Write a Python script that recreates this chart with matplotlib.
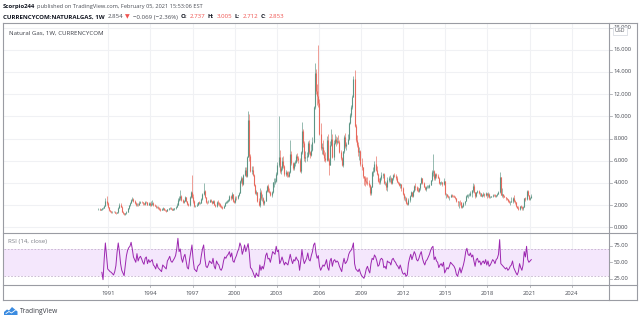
import numpy as np
import matplotlib.pyplot as plt
from matplotlib.lines import Line2D
from matplotlib.patches import Rectangle, Polygon

W, H = 640, 321
FONT = ['Open Sans', 'DejaVu Sans']

# monthly bars, first one is April 1990
start_year, start_month = 1990, 4
closes = [
    1.65, 1.58, 1.62, 1.70, 1.78, 1.95, 2.35, 2.20, 1.80,                    # 1990
    1.52, 1.45, 1.38, 1.40, 1.42, 1.30, 1.28, 1.35, 1.75, 2.05, 1.85, 1.40,  # 1991
    1.30, 1.18, 1.25, 1.40, 1.70, 2.00, 2.20, 2.45, 2.55, 2.35, 2.20, 2.05,  # 1992
    2.05, 2.00, 2.20, 2.30, 2.25, 2.15, 2.10, 2.30, 2.25, 2.05, 2.20, 2.00,  # 1993
    2.10, 2.20, 2.00, 1.95, 1.80, 1.85, 1.75, 1.65, 1.55, 1.62, 1.72, 1.60,  # 1994
    1.55, 1.50, 1.62, 1.70, 1.75, 1.65, 1.60, 1.62, 1.70, 1.85, 2.05, 2.50,  # 1995
    2.60, 2.80, 2.45, 2.25, 2.40, 2.70, 2.35, 2.10, 2.00, 2.70, 3.20, 2.70,  # 1996
    2.40, 1.95, 1.95, 2.05, 2.25, 2.20, 2.20, 2.55, 3.00, 3.30, 2.70, 2.30,  # 1997
    2.25, 2.30, 2.45, 2.35, 2.20, 2.40, 2.05, 1.90, 2.30, 2.15, 2.10, 1.95,  # 1998
    1.85, 1.75, 1.95, 2.20, 2.30, 2.35, 2.45, 2.80, 2.60, 3.00, 2.40, 2.30,  # 1999
    2.65, 2.60, 2.90, 3.10, 4.20, 4.40, 3.90, 4.70, 5.20, 4.60, 6.30, 9.70,  # 2000
    6.40, 5.10, 5.20, 4.70, 3.80, 3.10, 3.20, 2.40, 2.00, 3.20, 2.60, 2.60,  # 2001
    2.20, 2.40, 3.30, 3.70, 3.30, 3.20, 2.90, 3.20, 4.10, 4.10, 4.20, 4.80,  # 2002
    5.60, 6.30, 5.10, 5.30, 6.00, 5.50, 4.80, 5.00, 4.70, 4.60, 5.00, 6.60,  # 2003
    5.80, 5.30, 5.80, 5.90, 6.40, 6.20, 6.10, 5.10, 6.80, 8.70, 7.60, 6.20,  # 2004
    6.30, 6.40, 7.60, 6.80, 6.50, 7.00, 7.70, 10.80, 13.90, 12.30, 11.80, 11.20,  # 2005
    8.40, 7.10, 7.20, 6.60, 6.20, 6.10, 7.90, 6.10, 5.60, 7.40, 8.00, 6.30,  # 2006
    7.60, 8.00, 7.70, 7.80, 7.70, 6.80, 6.20, 5.60, 6.90, 8.10, 7.30, 7.50,  # 2007
    8.00, 9.40, 10.10, 10.80, 11.70, 13.40, 9.10, 7.90, 7.40, 6.80, 6.90, 5.70,  # 2008
    5.40, 4.60, 4.40, 4.20, 4.10, 4.00, 3.80, 3.10, 3.60, 5.00, 5.10, 5.70,  # 2009
    5.20, 4.80, 4.20, 4.10, 4.40, 4.70, 4.80, 4.00, 4.00, 3.60, 4.30, 4.40,  # 2010
    4.40, 4.00, 4.40, 4.70, 4.60, 4.40, 4.10, 4.00, 3.80, 3.90, 3.50, 3.00,  # 2011
    2.60, 2.60, 2.20, 2.10, 2.45, 2.80, 3.20, 2.85, 3.30, 3.70, 3.60, 3.40,  # 2012
    3.30, 3.50, 4.00, 4.40, 4.00, 3.60, 3.45, 3.60, 3.60, 3.60, 3.85, 4.25,  # 2013
    5.00, 5.10, 4.40, 4.80, 4.60, 4.45, 4.00, 4.05, 4.10, 3.90, 4.20, 3.00,  # 2014
    3.00, 2.85, 2.70, 2.75, 2.90, 2.85, 2.80, 2.75, 2.60, 2.35, 2.25, 2.30,  # 2015
    2.25, 1.80, 1.95, 2.20, 2.35, 2.85, 2.90, 2.90, 2.95, 3.10, 3.35, 3.70,  # 2016
    3.15, 2.80, 3.20, 3.25, 3.05, 3.05, 2.85, 2.95, 3.00, 2.90, 3.10, 2.90,  # 2017
    3.00, 2.70, 2.75, 2.80, 2.95, 2.90, 2.80, 2.90, 3.00, 3.20, 4.50, 2.95,  # 2018
    3.00, 2.80, 2.70, 2.60, 2.55, 2.40, 2.30, 2.30, 2.35, 2.65, 2.40, 2.25,  # 2019
    1.95, 1.75, 1.65, 1.90, 1.85, 1.75, 1.85, 2.60, 2.55, 3.30, 2.90, 2.55,  # 2020
    2.60, 2.853,                                                             # 2021
]
highs = [
    1.75, 1.70, 1.68, 1.78, 1.85, 2.05, 2.60, 2.78, 2.25,
    1.85, 1.58, 1.50, 1.48, 1.50, 1.48, 1.36, 1.42, 1.85, 2.22, 2.15, 1.90,
    1.45, 1.32, 1.32, 1.48, 1.75, 2.05, 2.30, 2.55, 2.75, 2.60, 2.45, 2.30,
    2.20, 2.15, 2.35, 2.40, 2.38, 2.30, 2.20, 2.40, 2.38, 2.28, 2.32, 2.25,
    2.35, 2.45, 2.25, 2.10, 2.00, 1.95, 1.90, 1.80, 1.70, 1.70, 1.82, 1.78,
    1.65, 1.60, 1.68, 1.78, 1.82, 1.80, 1.70, 1.70, 1.78, 1.95, 2.15, 2.65,
    2.85, 3.40, 2.90, 2.55, 2.50, 2.80, 2.75, 2.40, 2.20, 2.80, 3.30, 4.70,
    3.00, 2.45, 2.05, 2.15, 2.30, 2.35, 2.30, 2.65, 3.10, 3.95, 3.40, 2.75,
    2.40, 2.45, 2.55, 2.55, 2.40, 2.50, 2.45, 2.10, 2.40, 2.45, 2.25, 2.20,
    2.00, 1.90, 2.00, 2.30, 2.40, 2.45, 2.55, 2.90, 2.95, 3.20, 3.00, 2.50,
    2.80, 2.80, 2.95, 3.20, 4.30, 4.60, 4.50, 4.80, 5.40, 5.40, 6.40, 10.50,
    10.20, 6.60, 5.50, 5.50, 4.80, 3.90, 3.40, 3.20, 2.60, 3.50, 3.40, 3.00,
    2.70, 2.50, 3.40, 3.80, 3.90, 3.50, 3.30, 3.30, 4.10, 4.40, 4.40, 5.00,
    5.90, 10.00, 7.00, 5.50, 6.30, 6.40, 5.60, 5.20, 5.10, 5.10, 5.10, 7.90,
    6.90, 5.90, 5.90, 6.10, 6.60, 6.70, 6.40, 6.20, 6.90, 9.50, 8.90, 7.80,
    6.90, 6.80, 7.80, 7.90, 6.90, 7.50, 8.10, 10.90, 14.80, 14.30, 12.90, 16.40,
    11.60, 9.40, 7.60, 7.90, 7.00, 6.80, 8.20, 8.40, 6.20, 7.80, 8.90, 8.40,
    7.90, 8.40, 8.20, 8.10, 8.30, 7.90, 7.00, 6.30, 6.90, 8.30, 8.50, 7.70,
    8.40, 9.50, 10.30, 11.00, 11.90, 13.60, 14.20, 9.30, 8.30, 7.70, 7.20, 7.00,
    6.20, 5.40, 4.60, 4.60, 4.50, 4.50, 4.30, 3.90, 3.70, 5.10, 5.40, 6.00,
    6.40, 5.50, 4.90, 4.40, 4.50, 5.00, 4.90, 4.90, 4.20, 4.10, 4.50, 4.60,
    4.70, 4.50, 4.40, 4.80, 4.90, 4.80, 4.60, 4.20, 4.10, 4.00, 3.90, 3.60,
    3.10, 2.80, 2.70, 2.30, 2.60, 2.90, 3.30, 3.20, 3.40, 3.80, 4.00, 3.70,
    3.60, 3.50, 4.00, 4.50, 4.40, 4.10, 3.70, 3.70, 3.80, 3.80, 3.90, 4.30,
    5.20, 6.60, 5.20, 4.90, 4.90, 4.80, 4.50, 4.10, 4.15, 4.10, 4.45, 4.20,
    3.10, 3.00, 2.95, 2.80, 3.00, 3.00, 2.95, 2.90, 2.80, 2.60, 2.40, 2.35,
    2.50, 2.30, 2.00, 2.25, 2.40, 2.95, 3.00, 3.00, 3.10, 3.30, 3.40, 4.00,
    3.90, 3.20, 3.20, 3.35, 3.40, 3.20, 3.10, 3.00, 3.15, 3.05, 3.15, 3.10,
    3.20, 3.10, 2.85, 2.85, 2.98, 3.00, 2.98, 2.95, 3.10, 3.30, 5.00, 4.50,
    3.50, 3.00, 2.90, 2.75, 2.65, 2.55, 2.45, 2.40, 2.70, 2.75, 2.90, 2.50,
    2.25, 1.95, 1.90, 1.95, 2.00, 1.90, 1.90, 2.65, 2.75, 3.40, 3.35, 2.95,
    2.75, 3.005,
]
lows = [
    1.55, 1.52, 1.55, 1.60, 1.68, 1.75, 1.90, 2.05, 1.75,
    1.48, 1.40, 1.33, 1.33, 1.35, 1.25, 1.22, 1.25, 1.32, 1.70, 1.80, 1.35,
    1.22, 1.10, 1.14, 1.22, 1.38, 1.65, 1.95, 2.15, 2.40, 2.25, 2.10, 1.95,
    1.95, 1.92, 1.98, 2.15, 2.15, 2.05, 2.02, 2.05, 2.15, 2.00, 2.00, 1.90,
    1.95, 2.05, 1.95, 1.88, 1.75, 1.75, 1.68, 1.60, 1.50, 1.52, 1.58, 1.55,
    1.48, 1.42, 1.48, 1.60, 1.65, 1.62, 1.55, 1.55, 1.60, 1.68, 1.82, 2.00,
    2.40, 2.50, 2.35, 2.15, 2.20, 2.35, 2.30, 2.05, 1.90, 1.95, 2.65, 2.60,
    2.20, 1.85, 1.85, 1.90, 2.00, 2.10, 2.10, 2.15, 2.50, 2.95, 2.60, 2.20,
    2.10, 2.15, 2.25, 2.25, 2.10, 2.15, 2.00, 1.80, 1.85, 2.00, 1.95, 1.85,
    1.75, 1.65, 1.70, 1.90, 2.15, 2.20, 2.30, 2.40, 2.50, 2.55, 2.30, 2.15,
    2.20, 2.50, 2.55, 2.85, 3.10, 4.00, 3.70, 3.80, 4.60, 4.50, 4.50, 6.30,
    6.00, 5.00, 4.80, 4.60, 3.70, 3.00, 2.90, 2.30, 1.90, 1.85, 2.50, 2.40,
    2.00, 2.00, 2.40, 3.20, 3.20, 3.10, 2.80, 2.75, 3.10, 3.60, 3.90, 4.10,
    4.70, 5.40, 4.90, 4.80, 5.20, 5.30, 4.60, 4.60, 4.50, 4.50, 4.50, 4.90,
    5.60, 5.20, 5.20, 5.50, 5.80, 6.00, 5.80, 5.00, 4.90, 6.60, 7.20, 6.00,
    5.90, 6.00, 6.30, 6.60, 6.20, 6.40, 6.90, 7.60, 10.70, 12.00, 11.00, 10.80,
    8.30, 7.00, 6.60, 6.50, 6.00, 5.90, 6.00, 6.00, 4.70, 5.60, 7.30, 6.20,
    6.10, 7.50, 7.30, 7.50, 7.60, 6.70, 6.10, 5.50, 5.40, 6.70, 7.10, 7.00,
    7.50, 7.90, 9.30, 9.90, 10.70, 11.70, 9.00, 7.70, 7.20, 6.40, 6.10, 5.50,
    5.20, 4.40, 3.80, 3.70, 3.90, 3.80, 3.60, 2.90, 2.90, 3.60, 4.60, 5.00,
    5.10, 4.70, 4.10, 3.90, 3.90, 4.30, 4.40, 3.90, 3.80, 3.40, 3.30, 4.10,
    4.10, 3.90, 3.90, 4.30, 4.50, 4.30, 4.10, 3.90, 3.70, 3.50, 3.30, 2.90,
    2.50, 2.40, 2.10, 2.00, 2.00, 2.30, 2.80, 2.70, 2.75, 3.20, 3.40, 3.30,
    3.20, 3.20, 3.40, 3.90, 3.90, 3.60, 3.40, 3.30, 3.50, 3.50, 3.50, 3.80,
    4.20, 4.60, 4.30, 4.30, 4.40, 4.40, 3.90, 3.80, 3.90, 3.70, 3.80, 2.95,
    2.60, 2.70, 2.60, 2.50, 2.70, 2.70, 2.70, 2.70, 2.55, 2.25, 1.95, 1.75,
    2.05, 1.75, 1.70, 1.85, 2.00, 2.35, 2.70, 2.65, 2.80, 2.85, 2.70, 3.20,
    3.10, 2.60, 2.70, 3.05, 3.00, 2.85, 2.80, 2.75, 2.85, 2.70, 2.85, 2.65,
    2.70, 2.60, 2.60, 2.70, 2.75, 2.85, 2.70, 2.75, 2.85, 3.00, 3.10, 2.90,
    2.75, 2.60, 2.70, 2.50, 2.45, 2.30, 2.15, 2.05, 2.28, 2.20, 2.30, 2.10,
    1.85, 1.70, 1.55, 1.55, 1.70, 1.55, 1.60, 1.80, 2.40, 2.50, 2.80, 2.45,
    2.45, 2.712,
]

rsi_start_year, rsi_start_month = 1990, 7
rsi = [
    35, 24, 55, 79, 60, 40,
    38, 36, 35, 33, 31, 36, 45, 65, 79, 66, 48, 38,
    34, 30, 45, 60, 68, 72, 74, 80, 70, 58, 54, 50,
    63, 52, 57, 59, 55, 50, 47, 56, 58, 48, 54, 50,
    52, 54, 46, 44, 40, 48, 42, 40, 38, 36, 46, 44,
    42, 40, 52, 55, 59, 52, 50, 53, 56, 60, 70, 86,
    66, 70, 56, 50, 58, 62, 52, 42, 40, 55, 66, 76,
    54, 40, 38, 36, 44, 46, 48, 60, 70, 76, 56, 44,
    42, 46, 52, 50, 48, 56, 44, 40, 52, 48, 46, 40,
    38, 42, 52, 58, 56, 60, 62, 66, 58, 64, 52, 50,
    56, 60, 66, 70, 79, 74, 62, 68, 76, 66, 72, 78,
    64, 42, 40, 36, 31, 27, 34, 30, 29, 46, 38, 44,
    40, 48, 60, 64, 55, 56, 50, 58, 66, 64, 62, 74,
    66, 68, 48, 52, 58, 52, 46, 50, 48, 46, 54, 62,
    54, 48, 54, 52, 58, 54, 52, 38, 52, 69, 56, 48,
    52, 56, 64, 54, 52, 60, 66, 76, 79, 64, 56, 60,
    44, 38, 42, 46, 44, 48, 54, 42, 38, 52, 56, 44,
    52, 54, 50, 52, 50, 44, 40, 36, 48, 56, 48, 50,
    54, 62, 66, 68, 72, 79, 48, 40, 38, 36, 40, 34,
    30, 28, 26, 32, 40, 44, 38, 34, 48, 56, 54, 61,
    58, 52, 44, 46, 54, 56, 54, 42, 44, 40, 52, 50,
    50, 46, 54, 56, 52, 50, 46, 44, 40, 46, 40, 34,
    32, 34, 29, 31, 48, 56, 62, 54, 60, 66, 62, 54,
    52, 56, 62, 66, 56, 50, 46, 52, 54, 58, 62, 68,
    72, 74, 54, 58, 52, 50, 42, 46, 48, 44, 50, 34,
    38, 42, 40, 44, 50, 48, 46, 44, 40, 32, 29, 36,
    42, 34, 40, 46, 54, 66, 71, 62, 60, 64, 58, 61,
    52, 44, 54, 56, 50, 52, 46, 50, 52, 48, 54, 46,
    52, 44, 46, 50, 54, 52, 48, 54, 56, 62, 84, 48,
    46, 44, 42, 40, 42, 38, 40, 44, 46, 52, 42, 38,
    34, 31, 36, 48, 42, 38, 46, 66, 58, 74, 54, 50,
    52, 54,
]

year_ticks = list(range(1991, 2025, 3))
price_ticks = list(range(0, 20, 2))
rsi_ticks = [25, 50, 75]

UP = '#5c9585'
DOWN = '#e8695c'
RED = '#ef5350'
GRID = '#f0f1f4'
FRAME = '#9a9ca3'
TXT = '#4a4d55'


def fx(px):
    return px / W


def fy(py):
    return 1 - py / H


def px_to_year(px):
    return 1991 + (px - 108.3) / 14.04


def fig_line(x0, y0, x1, y1, color=FRAME, lw=0.8):
    fig.add_artist(Line2D([fx(x0), fx(x1)], [fy(y0), fy(y1)],
                          transform=fig.transFigure, color=color, lw=lw))


def text_run(x_px, y_px, parts, gap=1.6):
    r = fig.canvas.get_renderer()
    x = x_px
    for s, color, weight, size in parts:
        t = fig.text(fx(x), fy(y_px), s, color=color, fontsize=size,
                     fontweight=weight, va='center', ha='left', family=FONT)
        x += t.get_window_extent(renderer=r).width + gap


fig = plt.figure(figsize=(6.4, 3.21), dpi=100)

left, right = 3.5, 609.3
top, mid, bot = 23, 232.7, 285.3

ax = fig.add_axes([fx(left), fy(mid), fx(right) - fx(left), fy(top) - fy(mid)])
ax_rsi = fig.add_axes([fx(left), fy(bot), fx(right) - fx(left), fy(mid) - fy(bot)])
ax_scale = fig.add_axes([fx(right), fy(mid), fx(637) - fx(right), fy(top) - fy(mid)])
ax_rscale = fig.add_axes([fx(right), fy(bot), fx(637) - fx(right), fy(mid) - fy(bot)])

xmin, xmax = px_to_year(left), px_to_year(right)
price_lo, price_hi = (227.3 - mid) / 11.1, (227.3 - top) / 11.1
rsi_lo, rsi_hi = 50 - (bot - 262.3) / 0.667, 50 + (262.3 - mid) / 0.667

# candles
n = len(closes)
dates = start_year + (start_month - 1 + np.arange(n) + 0.5) / 12
c = np.array(closes)
o = np.r_[c[0], c[:-1]]
colors = [UP if cc >= oo else DOWN for oo, cc in zip(o, c)]
ax.vlines(dates, lows, highs, colors=colors, lw=0.45, zorder=3)
ax.vlines(dates, np.minimum(o, c), np.maximum(o, c), colors=colors, lw=0.8, zorder=3)

for a in (ax, ax_rsi):
    for yr in year_ticks:
        a.axvline(yr, color=GRID, lw=0.8, zorder=0)
    a.set_xlim(xmin, xmax)
    a.set_xticks([])
    a.set_yticks([])
    for s in a.spines.values():
        s.set_visible(False)

for p in price_ticks:
    ax.axhline(p, color=GRID, lw=0.8, zorder=0)
ax.set_ylim(price_lo, price_hi)

# RSI pane
rd = rsi_start_year + (rsi_start_month - 1 + np.arange(len(rsi)) + 0.5) / 12
ax_rsi.axhspan(30, 70, color='#f4e7fc', lw=0, zorder=1)
ax_rsi.axhline(70, color='#c3b0cc', lw=0.6, ls=(0, (2, 2)), zorder=2)
ax_rsi.axhline(30, color='#c3b0cc', lw=0.6, ls=(0, (2, 2)), zorder=2)
ax_rsi.plot(rd, rsi, color='#9c27b0', lw=0.7, zorder=3)
ax_rsi.set_ylim(rsi_lo, rsi_hi)

# price scale
for a, lo, hi in ((ax_scale, price_lo, price_hi), (ax_rscale, rsi_lo, rsi_hi)):
    a.set_xlim(0, 1)
    a.set_ylim(lo, hi)
    a.axis('off')
for p in price_ticks:
    ax_scale.plot([0, 0.1], [p, p], color=FRAME, lw=0.5, clip_on=True)
    ax_scale.text(0.16, p, f'{p:.3f}', fontsize=4.2, color=TXT, va='center',
                  ha='left', family=FONT, clip_on=True)
for r_ in rsi_ticks:
    ax_rscale.plot([0, 0.1], [r_, r_], color=FRAME, lw=0.5)
    ax_rscale.text(0.16, r_, f'{r_:.2f}', fontsize=4.2, color=TXT, va='center',
                   ha='left', family=FONT)

# USD badge
fig.add_artist(Rectangle((fx(613), fy(35)), fx(627) - fx(613), fy(27) - fy(35),
                         transform=fig.transFigure, fc='white', ec='#d1d4dc', lw=0.5))
fig.text(fx(620), fy(31), 'USD', fontsize=3.8, color=TXT, ha='center', va='center', family=FONT)

# time axis labels
for yr in year_ticks:
    xp = 108.3 + (yr - 1991) * 14.04
    fig_line(xp, bot, xp, bot + 2, lw=0.5)
    fig.text(fx(xp), fy(293.7), str(yr), fontsize=4.2, color=TXT, ha='center',
             va='center', family=FONT)

# frame
fig_line(3, top, 637, top)
fig_line(3, 300, 637, 300)
fig_line(3, top, 3, 300)
fig_line(637, top, 637, 300)
fig_line(3, mid, 637, mid)
fig_line(3, bot, 637, bot)
fig_line(right, top, right, 300)

# legends
fig.text(fx(9), fy(33.3), 'Natural Gas, 1W, CURRENCYCOM', fontsize=4.4, color='#3c3f47',
         va='center', ha='left', family=FONT)
fig.text(fx(8), fy(241.7), 'RSI (14, close)', fontsize=4.4, color='#7b7e86',
         va='center', ha='left', family=FONT)

# header
text_run(3, 6.3, [('Scorpio244', '#131722', 'bold', 4.3),
                  ('published on TradingView.com, February 05, 2021 15:53:06 EST', '#4a4d55', 'normal', 4.1)])
text_run(3, 17, [('CURRENCYCOM:NATURALGAS, 1W', '#131722', 'bold', 4.4),
                 ('2.854', '#4a4d55', 'normal', 4.4),
                 ('▼', RED, 'normal', 4.4),
                 ('\u22120.069 (\u22122.36%)', '#4a4d55', 'normal', 4.4),
                 ('O:', '#131722', 'bold', 4.4), ('2.737', RED, 'normal', 4.4),
                 ('H:', '#131722', 'bold', 4.4), ('3.005', RED, 'normal', 4.4),
                 ('L:', '#131722', 'bold', 4.4), ('2.712', RED, 'normal', 4.4),
                 ('C:', '#131722', 'bold', 4.4), ('2.853', RED, 'normal', 4.4)], gap=2.6)

# TradingView logo
fig.add_artist(Polygon([(fx(4), fy(315)), (fx(4), fy(312)), (fx(7), fy(309.5)), (fx(9), fy(310.5)),
                        (fx(12), fy(307)), (fx(15), fy(309.5)), (fx(17.5), fy(311.5)), (fx(17.5), fy(315))],
                       closed=True, transform=fig.transFigure, fc='#3b8be0', ec='none'))
fig.add_artist(Line2D([fx(6), fx(9), fx(11.5), fx(15.5)], [fy(313.5), fy(311.5), fy(313), fy(310)],
                      transform=fig.transFigure, color='white', lw=0.6))
fig.text(fx(20), fy(311.5), 'TradingView', fontsize=4.8, color='#3c3f47', va='center',
         ha='left', family=FONT)

fig.savefig('out.png', dpi=100, facecolor='white')
